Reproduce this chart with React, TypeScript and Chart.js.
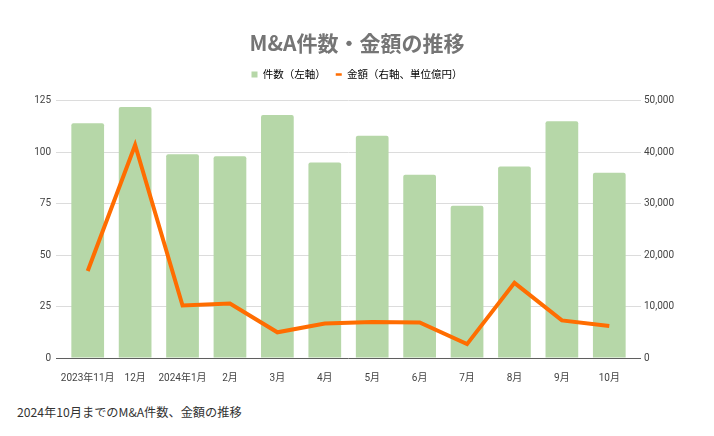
import React, { useEffect, useRef } from 'react';
import { Chart, registerables } from 'chart.js';

Chart.register(...registerables);

const categories = ['2023年11月', '12月', '2024年1月', '2月', '3月', '4月', '5月', '6月', '7月', '8月', '9月', '10月'];
const dealCounts = [114, 122, 99, 98, 118, 95, 108, 89, 74, 93, 115, 90];
const dealAmounts = [16900, 41400, 10200, 10600, 5000, 6700, 7000, 6900, 2700, 14600, 7300, 6200];
const countAxis = { min: 0, max: 125, step: 25 };
const amountAxis = { min: 0, max: 50000, step: 10000 };

const titleText = 'M&A件数・金額の推移';
const countLabel = '件数（左軸）';
const amountLabel = '金額（右軸、単位億円）';
const captionText = '2024年10月までのM&A件数、金額の推移';

const BAR_COLOR = '#b6d7a8';
const LINE_COLOR = '#ff6d01';
const FONT = "Roboto, 'Noto Sans CJK JP', sans-serif";
const JP = "'Noto Sans CJK JP', sans-serif";
const LEGEND_GAP = 11;

const gridColor = (ctx: any) => (ctx.tick && ctx.tick.value === 0 ? '#5f5f5f' : '#dcdcdc');

// adds empty space below the legend, between it and the plot area
const legendSpacer = {
  id: 'legendSpacer',
  beforeLayout(chart: any) {
    const lg = chart.legend;
    if (lg && !lg.__spaced) {
      const orig = lg.fit.bind(lg);
      lg.fit = function () {
        orig();
        this.height += LEGEND_GAP;
      };
      lg.__spaced = true;
    }
  },
};

export default function App() {
  const ref = useRef<HTMLCanvasElement | null>(null);

  useEffect(() => {
    if (!ref.current) return;
    const chart = new Chart(ref.current, {
      type: 'bar',
      data: {
        labels: categories,
        datasets: [
          {
            type: 'line',
            label: amountLabel,
            data: dealAmounts,
            yAxisID: 'y1',
            borderColor: LINE_COLOR,
            backgroundColor: LINE_COLOR,
            borderWidth: 4,
            pointRadius: 0,
            tension: 0,
            order: 0,
          } as any,
          {
            type: 'bar',
            label: countLabel,
            data: dealCounts,
            yAxisID: 'y',
            backgroundColor: BAR_COLOR,
            borderWidth: 0,
            borderRadius: { topLeft: 2, topRight: 2, bottomLeft: 0, bottomRight: 0 },
            borderSkipped: 'bottom',
            barPercentage: 1,
            categoryPercentage: 0.69,
            order: 1,
          } as any,
        ],
      },
      plugins: [legendSpacer],
      options: {
        responsive: false,
        animation: false,
        layout: { padding: 0 },
        plugins: {
          tooltip: { enabled: false },
          title: {
            display: true,
            text: titleText,
            color: '#757575',
            font: { family: JP, size: 21, weight: 'bold' },
            padding: { top: 30, bottom: 4 },
          },
          legend: {
            display: true,
            position: 'top',
            labels: {
              usePointStyle: true,
              boxWidth: 6,
              boxHeight: 6,
              pointStyleWidth: 6,
              padding: 10,
              color: '#333',
              font: { family: JP, size: 10.5 },
              generateLabels: () => [
                {
                  text: countLabel,
                  fillStyle: BAR_COLOR,
                  strokeStyle: BAR_COLOR,
                  lineWidth: 0,
                  pointStyle: 'rect',
                  hidden: false,
                  datasetIndex: 1,
                } as any,
                {
                  text: amountLabel,
                  fillStyle: LINE_COLOR,
                  strokeStyle: LINE_COLOR,
                  lineWidth: 2.5,
                  pointStyle: 'line',
                  hidden: false,
                  datasetIndex: 0,
                } as any,
              ],
            },
          },
        },
        scales: {
          x: {
            grid: { display: false },
            border: { display: false },
            ticks: {
              autoSkip: false,
              maxRotation: 0,
              padding: 6,
              color: '#444',
              font: { family: FONT, size: 10 },
            },
            afterFit: (s: any) => {
              s.height = 34;
            },
          },
          y: {
            position: 'left',
            min: countAxis.min,
            max: countAxis.max,
            border: { display: false },
            grid: { color: gridColor, drawTicks: true, tickLength: 8, lineWidth: 1 },
            ticks: {
              stepSize: countAxis.step,
              padding: 5,
              color: '#444',
              font: { family: FONT, size: 10 },
            },
            afterFit: (s: any) => {
              s.width = 64;
            },
          },
          y1: {
            position: 'right',
            min: amountAxis.min,
            max: amountAxis.max,
            border: { display: false },
            grid: { color: gridColor, drawOnChartArea: false, drawTicks: true, tickLength: 8, lineWidth: 1 },
            ticks: {
              stepSize: amountAxis.step,
              padding: 3,
              color: '#444',
              font: { family: FONT, size: 10 },
              callback: (v: any) => Number(v).toLocaleString('en-US'),
            },
            afterFit: (s: any) => {
              s.width = 81;
            },
          },
        },
      } as any,
    });
    return () => chart.destroy();
  }, []);

  return (
    <div style={{ position: 'absolute', left: 0, top: 0, width: 714, height: 436, background: '#fff' }}>
      <canvas ref={ref} width={714} height={392} style={{ display: 'block', width: 714, height: 392 }} />
      <div
        style={{
          position: 'absolute',
          left: 17,
          top: 404,
          fontFamily: JP,
          fontSize: 12.2,
          lineHeight: '16px',
          color: '#333',
          whiteSpace: 'nowrap',
        }}
      >
        {captionText}
      </div>
    </div>
  );
}
